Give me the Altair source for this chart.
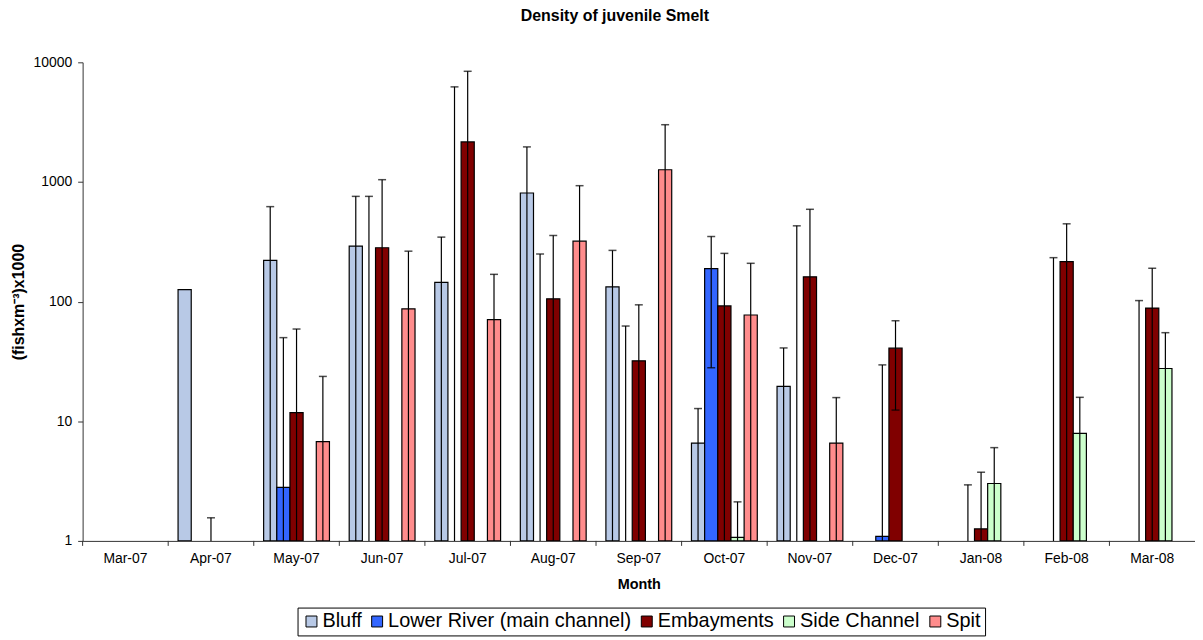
import altair as alt
import pandas as pd

months = ["Mar-07", "Apr-07", "May-07", "Jun-07", "Jul-07", "Aug-07", "Sep-07",
          "Oct-07", "Nov-07", "Dec-07", "Jan-08", "Feb-08", "Mar-08"]
series = ["Bluff", "Lower River (main channel)", "Embayments", "Side Channel", "Spit"]
colors = ["#b8c9e6", "#3366ff", "#800000", "#ccffcc", "#ff8c8c"]

bluff = [0, 126, 221, 291, 145, 809, 133, 6.57, 19.6, 0, 0, 0, 0]
bluff_err = [0, 0, 401, 467, 201, 1155, 135, 6.2, 21.4, 0, 0, 0, 0]
lower_river = [0, 0, 2.8, 0, 0, 0, 0, 189, 0, 1.09, 0, 0, 0]
lower_river_err = [0, 0, 47.2, 758, 6235, 250, 62.5, 161, 430, 28.5, 2.94, 233, 102]
embayments = [0, 0, 11.8, 282, 2162, 105.5, 32, 92, 161, 40.8, 1.26, 216, 88.3]
embayments_err = [0, 1.56, 47.2, 763, 6252, 251.5, 62, 161, 430, 28.4, 2.49, 231, 101.7]
side_channel = [0, 0, 0, 0, 0, 0, 0, 1.07, 0, 0, 3.02, 7.91, 27.6]
side_channel_err = [0, 0, 0, 0, 0, 0, 0, 1.05, 0, 0, 3.0, 7.94, 27.4]
spit = [0, 0, 6.75, 87, 70.6, 320, 1265, 77.3, 6.57, 0, 0, 0, 0]
spit_err = [0, 0, 16.95, 177, 98.4, 611, 1745, 131.7, 9.2, 0, 0, 0, 0]

values = [bluff, lower_river, embayments, side_channel, spit]
errors = [bluff_err, lower_river_err, embayments_err, side_channel_err, spit_err]

rows = []
for s, vals, errs in zip(series, values, errors):
    for m, v, e in zip(months, vals, errs):
        rows.append({
            "month": m, "series": s, "value": v, "err": e,
            "low": max(v - e, 1.0), "high": v + e, "has_low": (v - e) > 1.0,
        })
df = pd.DataFrame(rows)

W, H = 1118, 481
FONT = "Liberation Sans"

x_scale = alt.Scale(domain=months, paddingInner=0, paddingOuter=0)
x_axis = alt.Axis(labelAngle=0, ticks=False, domainColor="#333333", labelFontSize=14,
                  labelColor="black", labelPadding=11, titleFontSize=14.5,
                  titleFontWeight="bold", titleColor="black", titlePadding=12)
x_enc = alt.X("month:N", sort=months, scale=x_scale, axis=x_axis, title="Month")
xoff = alt.XOffset("series:N", sort=series,
                   scale=alt.Scale(domain=series, paddingInner=0, paddingOuter=0.75))
y_scale = alt.Scale(type="log", domain=[1, 10000], nice=False)
y_axis = alt.Axis(values=[1, 10, 100, 1000, 10000], format="d", grid=False,
                  domainColor="#333333", tickColor="#333333", tickSize=5,
                  labelFontSize=14, labelColor="black", labelPadding=6,
                  titleFontSize=16, titleFontWeight="bold", titleColor="black",
                  titlePadding=6)

base = alt.Chart(df)

bars = base.transform_filter("datum.value > 0").mark_bar(
    stroke="black", strokeWidth=1.2, clip=True
).encode(
    x=x_enc,
    xOffset=xoff,
    y=alt.Y("value:Q", scale=y_scale, axis=y_axis, title="(fishxm⁻³)x1000"),
    y2=alt.datum(1),
    color=alt.Color(
        "series:N", sort=series,
        scale=alt.Scale(domain=series, range=colors),
        legend=alt.Legend(
            title=None, orient="none", legendX=216, legendY=548,
            direction="horizontal", columns=5, labelFontSize=20, labelFont=FONT,
            labelColor="black", labelLimit=0, symbolType="square", symbolSize=121,
            symbolStrokeColor="black", symbolStrokeWidth=1, symbolOpacity=1,
            labelOffset=1, columnPadding=5, padding=4, strokeColor="black",
        ),
    ),
)

err_df = base.transform_filter("datum.err > 0")
rules = err_df.mark_rule(color="black", strokeWidth=1.2, clip=True).encode(
    x=x_enc, xOffset=xoff, y=alt.Y("low:Q", scale=y_scale), y2="high:Q"
)
caps = err_df.mark_tick(color="black", thickness=1.5, size=8).encode(
    x=x_enc, xOffset=xoff, y=alt.Y("high:Q", scale=y_scale)
)
low_caps = err_df.transform_filter("datum.has_low").mark_tick(
    color="black", thickness=1.5, size=8
).encode(x=x_enc, xOffset=xoff, y=alt.Y("low:Q", scale=y_scale))

tick_df = pd.DataFrame({"month": months})
band_ticks = alt.Chart(tick_df).mark_rule(color="#333333", strokeWidth=1).encode(
    x=alt.X("month:N", sort=months, scale=x_scale, axis=x_axis, title="Month",
            bandPosition=0),
    y=alt.value(H), y2=alt.value(H + 5),
)

chart = alt.layer(bars, rules, caps, low_caps, band_ticks).properties(
    width=W, height=H,
    title=alt.Title("Density of juvenile Smelt", fontSize=16, fontWeight="bold",
                    font=FONT, color="black", anchor="middle", dx=-24, offset=32),
    autosize=alt.AutoSizeParams(type="none"),
    padding={"left": 75, "top": 53, "right": 0, "bottom": 98},
).configure(font=FONT).configure_view(stroke=None)

chart.save("out.html", embed_options={"renderer": "svg", "actions": False})
